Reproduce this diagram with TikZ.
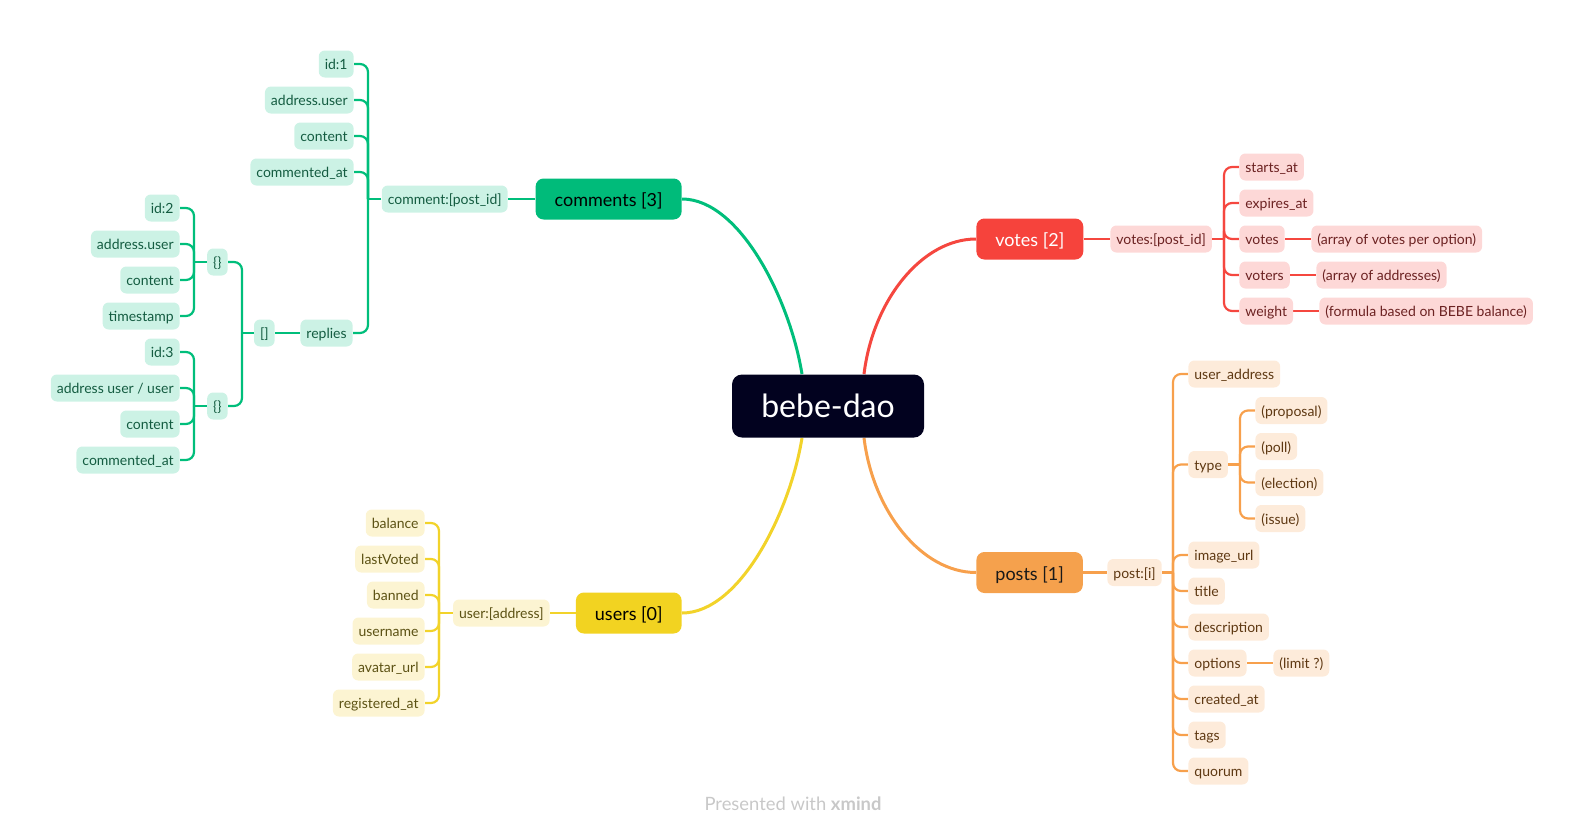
\documentclass[tikz,border=0pt]{standalone}
\usepackage{fontspec}
\setmainfont{Lato}
\usetikzlibrary{backgrounds}
\definecolor{rootFill}{HTML}{02021F}
\definecolor{gLine}{HTML}{00BE7B}
\definecolor{gMain}{HTML}{00BB7A}
\definecolor{gLight}{HTML}{CCF2E5}
\definecolor{gText}{HTML}{145C41}
\definecolor{rLine}{HTML}{F5473F}
\definecolor{rMain}{HTML}{F6433C}
\definecolor{rLight}{HTML}{FDD8D7}
\definecolor{rText}{HTML}{6C2222}
\definecolor{oLine}{HTML}{F7A04C}
\definecolor{oMain}{HTML}{F5A14D}
\definecolor{oLight}{HTML}{FDEBDA}
\definecolor{oText}{HTML}{5E3812}
\definecolor{yLine}{HTML}{F2D32A}
\definecolor{yMain}{HTML}{F2D321}
\definecolor{yLight}{HTML}{FCF4D2}
\definecolor{yText}{HTML}{5C5214}
\definecolor{footGray}{HTML}{C8C8C8}
\begin{document}
\begin{tikzpicture}[x=0.5pt,y=-0.5pt,
  leafbase/.style={rounded corners=3pt, minimum height=13.5pt, inner xsep=3pt, inner ysep=0pt,
    font=\fontsize{7}{8}\selectfont, text height=7.2pt, text depth=1.6pt},
  gs/.style={leafbase, fill=gLight, text=gText},
  rs/.style={leafbase, fill=rLight, text=rText},
  os/.style={leafbase, fill=oLight, text=oText},
  ys/.style={leafbase, fill=yLight, text=yText},
  mainbase/.style={rounded corners=4pt, minimum height=20.5pt, inner xsep=9.5pt, inner ysep=0pt,
    font=\fontsize{9}{10}\selectfont, text height=9.6pt, text depth=2pt},
  gmain/.style={mainbase, fill=gMain, text=black},
  rmain/.style={mainbase, fill=rMain, text=white},
  omain/.style={mainbase, fill=oMain, text=black!90},
  ymain/.style={mainbase, fill=yMain, text=black},
  rootbox/.style={rounded corners=5pt, minimum width=96pt, minimum height=31.5pt, fill=rootFill,
    text=white, font=\fontsize{16}{19}\selectfont},
  gl/.style={draw=gLine, line width=1.1pt, rounded corners=4pt},
  rl/.style={draw=rLine, line width=1.1pt, rounded corners=4pt},
  ol/.style={draw=oLine, line width=1.1pt, rounded corners=4pt},
  yl/.style={draw=yLine, line width=1.1pt, rounded corners=4pt},
  curve/.style={line width=1.5pt},
]
\useasboundingbox (0,0) rectangle (1588,835);

% root
\node[rootbox] (root) at (828,406) {bebe-dao};

% ---------- comments ----------
\node[gmain, anchor=east] (comments) at (682,199) {comments [3]};
\node[gs, anchor=east] (cpid) at (508,199) {comment:[post\_id]};
\node[gs, anchor=east] (cid1) at (354,64) {id:1};
\node[gs, anchor=east] (caddr) at (354,100) {address.user};
\node[gs, anchor=east] (ccontent) at (354,136) {content};
\node[gs, anchor=east] (cat) at (354,172) {commented\_at};
\node[gs, anchor=east] (creplies) at (353,333) {replies};
\node[gs, anchor=east] (carr) at (275,333) {[]};
\node[gs, anchor=east] (cobja) at (228,262) {\{\}};
\node[gs, anchor=east] (cobjb) at (228,406) {\{\}};
\node[gs, anchor=east] (raid) at (180,208) {id:2};
\node[gs, anchor=east] (raaddr) at (180,244) {address.user};
\node[gs, anchor=east] (racontent) at (180,280) {content};
\node[gs, anchor=east] (rats) at (180,316) {timestamp};
\node[gs, anchor=east] (rbid) at (180,352) {id:3};
\node[gs, anchor=east] (rbaddr) at (180,388) {address user / user};
\node[gs, anchor=east] (rbcontent) at (180,424) {content};
\node[gs, anchor=east] (rbat) at (180,460) {commented\_at};

% ---------- users ----------
\node[ymain, anchor=east] (users) at (682,613) {users [0]};
\node[ys, anchor=east] (uaddr) at (550,613) {user:[address]};
\node[ys, anchor=east] (ubal) at (425,523) {balance};
\node[ys, anchor=east] (ulast) at (425,559) {lastVoted};
\node[ys, anchor=east] (uban) at (425,595) {banned};
\node[ys, anchor=east] (uname) at (425,631) {username};
\node[ys, anchor=east] (uav) at (425,667) {avatar\_url};
\node[ys, anchor=east] (ureg) at (425,703) {registered\_at};

% ---------- votes ----------
\node[rmain, anchor=west] (votes) at (976,239) {votes [2]};
\node[rs, anchor=west] (vpid) at (1110,239) {votes:[post\_id]};
\node[rs, anchor=west] (vstart) at (1239,167) {starts\_at};
\node[rs, anchor=west] (vexp) at (1239,203) {expires\_at};
\node[rs, anchor=west] (vvotes) at (1239,239) {votes};
\node[rs, anchor=west] (vvoters) at (1239,275) {voters};
\node[rs, anchor=west] (vweight) at (1239,311) {weight};
\node[rs, anchor=west] (vvotesd) at (1311,239) {(array of votes per option)};
\node[rs, anchor=west] (vvotersd) at (1316,275) {(array of addresses)};
\node[rs, anchor=west] (vweightd) at (1319,311) {(formula based on BEBE balance)};

% ---------- posts ----------
\node[omain, anchor=west] (posts) at (976,572.5) {posts [1]};
\node[os, anchor=west] (ppi) at (1107,572.5) {post:[i]};
\node[os, anchor=west] (puser) at (1188,374) {user\_address};
\node[os, anchor=west] (ptype) at (1188,464.5) {type};
\node[os, anchor=west] (pprop) at (1255,410.5) {(proposal)};
\node[os, anchor=west] (ppoll) at (1255,446.5) {(poll)};
\node[os, anchor=west] (pelec) at (1255,482.5) {(election)};
\node[os, anchor=west] (pissue) at (1255,518.5) {(issue)};
\node[os, anchor=west] (pimg) at (1188,555) {image\_url};
\node[os, anchor=west] (ptitle) at (1188,591) {title};
\node[os, anchor=west] (pdesc) at (1188,627) {description};
\node[os, anchor=west] (popt) at (1188,663) {options};
\node[os, anchor=west] (plimit) at (1273,663) {(limit ?)};
\node[os, anchor=west] (pcreated) at (1188,699) {created\_at};
\node[os, anchor=west] (ptags) at (1188,735) {tags};
\node[os, anchor=west] (pquorum) at (1188,771) {quorum};

% footer
\node[text=footGray, font=\fontsize{9.2}{11}\selectfont] (footer) at (793,804) {Presented with \textbf{xmind}};

% trunk points
\coordinate (cT) at (368,199);
\coordinate (aT) at (242,333);
\coordinate (oaT) at (194,262);
\coordinate (obT) at (194,406);
\coordinate (uT) at (439,613);
\coordinate (vT) at (1224,239);
\coordinate (pT) at (1173,572.5);
\coordinate (tT) at (1240,464.5);

\begin{scope}[on background layer]
  % main curves
  \draw[gLine, curve] (comments.east) .. controls +(58,0) and +(-12,-74) .. ([xshift=-13pt]root.north);
  \draw[rLine, curve] (votes.west) .. controls +(-54,0) and +(9,-74) .. ([xshift=18pt]root.north);
  \draw[yLine, curve] (users.east) .. controls +(58,0) and +(-12,74) .. ([xshift=-13pt]root.south);
  \draw[oLine, curve] (posts.west) .. controls +(-54,0) and +(9,74) .. ([xshift=18pt]root.south);

  % comments branch
  \draw[gl] (comments.west) -- (cpid.east);
  \draw[gl] (cpid.west) -- (cT);
  \foreach \n in {cid1,caddr,ccontent,cat,creplies} \draw[gl] (cT) |- (\n.east);
  \draw[gl] (creplies.west) -- (carr.east);
  \draw[gl] (carr.west) -- (aT);
  \foreach \n in {cobja,cobjb} \draw[gl] (aT) |- (\n.east);
  \draw[gl] (cobja.west) -- (oaT);
  \foreach \n in {raid,raaddr,racontent,rats} \draw[gl] (oaT) |- (\n.east);
  \draw[gl] (cobjb.west) -- (obT);
  \foreach \n in {rbid,rbaddr,rbcontent,rbat} \draw[gl] (obT) |- (\n.east);

  % users branch
  \draw[yl] (users.west) -- (uaddr.east);
  \draw[yl] (uaddr.west) -- (uT);
  \foreach \n in {ubal,ulast,uban,uname,uav,ureg} \draw[yl] (uT) |- (\n.east);

  % votes branch
  \draw[rl] (votes.east) -- (vpid.west);
  \draw[rl] (vpid.east) -- (vT);
  \foreach \n in {vstart,vexp,vvotes,vvoters,vweight} \draw[rl] (vT) |- (\n.west);
  \draw[rl] (vvotes.east) -- (vvotesd.west);
  \draw[rl] (vvoters.east) -- (vvotersd.west);
  \draw[rl] (vweight.east) -- (vweightd.west);

  % posts branch
  \draw[ol] (posts.east) -- (ppi.west);
  \draw[ol] (ppi.east) -- (pT);
  \foreach \n in {puser,ptype,pimg,ptitle,pdesc,popt,pcreated,ptags,pquorum} \draw[ol] (pT) |- (\n.west);
  \draw[ol] (ptype.east) -- (tT);
  \foreach \n in {pprop,ppoll,pelec,pissue} \draw[ol] (tT) |- (\n.west);
  \draw[ol] (popt.east) -- (plimit.west);
\end{scope}
\end{tikzpicture}
\end{document}
